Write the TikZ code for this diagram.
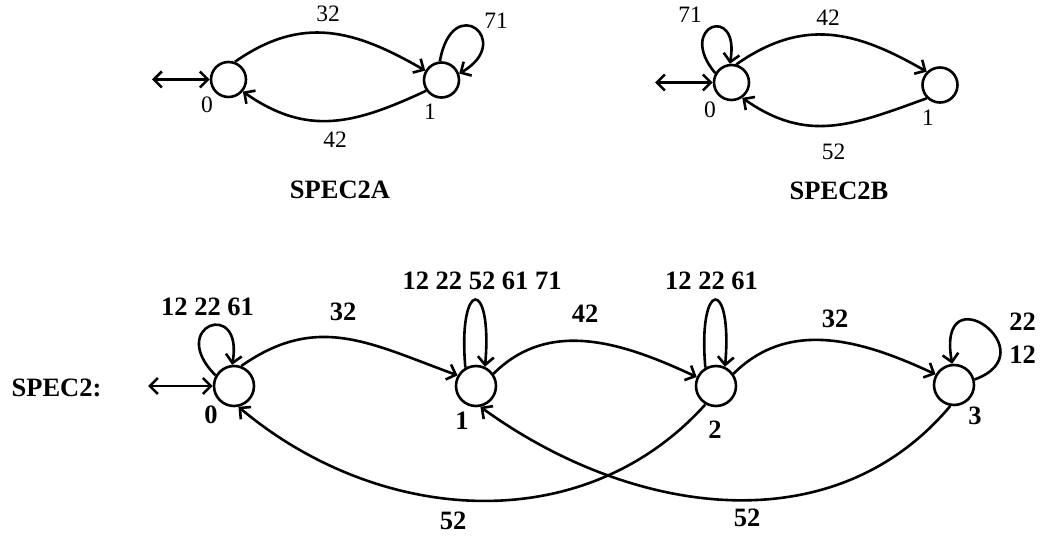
\documentclass[tikz,border=0pt]{standalone}
\usepackage{fontspec}
\setmainfont{Liberation Serif}
\usetikzlibrary{arrows.meta}
\begin{document}
\begin{tikzpicture}[x=1pt,y=1pt,
  >={Straight Barb[length=8pt,width=16pt]},
  st/.style={circle,draw,line width=2.6pt,minimum size=35pt,inner sep=0pt},
  stb/.style={st,minimum size=40pt},
  lab/.style={font=\fontsize{23.5}{27}\selectfont,inner sep=0pt},
  blab/.style={font=\fontsize{26.5}{30}\selectfont\bfseries,inner sep=0pt},
  tr/.style={->,line width=2.6pt},
  ini/.style={<->,line width=2.6pt}]
\useasboundingbox (0,0) rectangle (1049,-537);

% ---------- SPEC2A ----------
\node[st] (a0) at (228.5,-79.5) {};
\node[st] (a1) at (441.5,-80) {};
\coordinate (ia) at (152,-79.5);
\draw[ini] (ia) -- (a0);
\draw[tr] (a0.70) to[out=35,in=150,looseness=1.1] (a1.150);
\draw[tr] (a1.215) to[out=205,in=-35,looseness=1.1] (a0.-40);
\draw[tr] (a1.95) .. controls +(80:72) and +(30:65) .. (a1.20);
\node[lab] (la32) at (328,-13.5) {32};
\node[lab] (la42) at (335,-140) {42};
\node[lab] (la71) at (496,-21) {71};
\node[lab] (la0) at (207,-105) {0};
\node[lab] (la1) at (430,-112) {1};
\node[blab] (ta) at (340,-190) {SPEC2A};

% ---------- SPEC2B ----------
\node[st] (c0) at (731.5,-82.5) {};
\node[st] (c1) at (940,-85) {};
\coordinate (ic) at (655,-82.5);
\draw[ini] (ic) -- (c0);
\draw[tr] (c0.75) to[out=35,in=150,looseness=1.1] (c1.135);
\draw[tr] (c1.225) to[out=200,in=-35,looseness=1.1] (c0.-55);
\draw[tr] (c0.150) .. controls +(130:62) and +(80:62) .. (c0.95);
\node[lab] (lc71) at (690,-14.5) {71};
\node[lab] (lc42) at (828,-17.5) {42};
\node[lab] (lc52) at (833.5,-151.5) {52};
\node[lab] (lc0) at (710,-110) {0};
\node[lab] (lc1) at (928,-118) {1};
\node[blab] (tc) at (839,-191) {SPEC2B};

% ---------- SPEC2 ----------
\node[blab] (tb) at (56.5,-388) {SPEC2:};
\node[stb] (b0) at (234,-386) {};
\node[stb] (b1) at (476,-386) {};
\node[stb] (b2) at (716,-386) {};
\node[stb] (b3) at (954,-385) {};
\coordinate (ib) at (148,-386);
\draw[ini] (ib) -- (b0);
\draw[tr] (b0.70) to[out=35,in=160,looseness=1.1] (b1.150);
\draw[tr] (b1.35) to[out=45,in=155] (b2.155);
\draw[tr] (b2.35) to[out=45,in=155] (b3.150);
\draw[tr] (b2.240) to[out=228,in=-40] (b0.-78);
\draw[tr] (b3.260) to[out=230,in=-36] (b1.-78);
\draw[tr] (b0.150) .. controls +(135:70) and +(80:68) .. (b0.95);
\draw[tr] (b1.120) .. controls +(95:90) and +(85:90) .. (b1.65);
\draw[tr] (b2.120) .. controls +(95:90) and +(85:90) .. (b2.65);
\draw[tr] (b3.15) .. controls +(20:80) and +(100:95) .. (b3.95);
\node[blab] (lb0s) at (207.5,-307) {12 22 61};
\node[blab] (lb01) at (343,-312) {32};
\node[blab] (lb1s) at (482,-281) {12 22 52 61 71};
\node[blab] (lb12) at (585,-314) {42};
\node[blab] (lb2s) at (711.5,-281) {12 22 61};
\node[blab] (lb23) at (835,-319) {32};
\node[blab] (lb3a) at (1022.5,-321.5) {22};
\node[blab] (lb3b) at (1022.5,-355) {12};
\node[blab] (lb0) at (211,-415) {0};
\node[blab] (lb1) at (462,-421) {1};
\node[blab] (lb2) at (715,-430) {2};
\node[blab] (lb3) at (975,-416) {3};
\node[blab] (lb20) at (453,-521) {52};
\node[blab] (lb31) at (747,-518) {52};
\end{tikzpicture}
\end{document}
